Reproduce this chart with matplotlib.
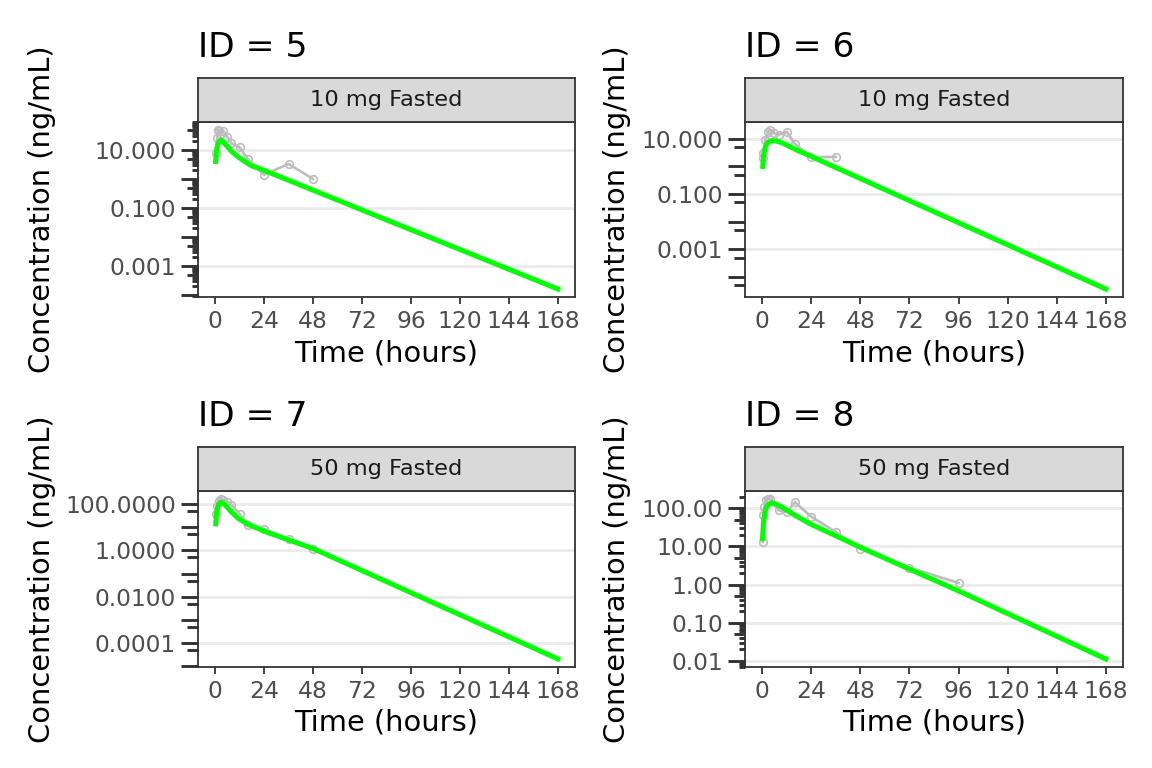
import numpy as np
import matplotlib
matplotlib.use("Agg")
import matplotlib.pyplot as plt
from matplotlib.ticker import NullLocator

# ---- values ----
ids = [5, 6, 7, 8]
groups = ["10 mg Fasted", "10 mg Fasted", "50 mg Fasted", "50 mg Fasted"]

# observed concentrations (ng/mL)
obs_time_5 = [0.5, 1, 1.5, 2, 3, 4, 6, 8, 12, 16, 24, 36, 48]
obs_conc_5 = [8.1, 25, 49, 46, 35, 46, 28, 17, 12.3, 4.8, 1.4, 3.3, 1.0]
obs_time_6 = [0.25, 0.5, 1.5, 3, 4, 6, 8, 12, 16, 24, 36]
obs_conc_6 = [2.0, 3.0, 9.2, 18, 21, 16, 14, 18, 6.6, 2.2, 2.2]
obs_time_7 = [0.5, 1, 2, 3, 4, 6, 8, 12, 16, 24, 36, 48]
obs_conc_7 = [37, 80, 139, 163, 150, 120, 93, 37, 12, 8.5, 3.0, 1.1]
obs_time_8 = [0.25, 0.5, 1, 2, 3, 4, 8, 12, 16, 24, 36, 48, 72, 96]
obs_conc_8 = [13, 66, 108, 160, 175, 170, 89, 80, 146, 60, 24, 8.7, 2.8, 1.1]

# model predictions (ng/mL)
pred_time_5 = [0.25, 0.8, 1.6, 2.8, 4.9, 8.2, 11.5, 17.2, 25.4, 168]
pred_conc_5 = [4.0, 11.5, 18, 22, 16, 8.7, 5.6, 3.0, 1.8, 0.00016]
pred_time_6 = [0.3, 0.8, 1.5, 2.5, 3.5, 5, 7, 9.9, 16, 24, 168]
pred_conc_6 = [1.0, 3.0, 5.0, 7.1, 8.1, 8.7, 8.3, 7.1, 4.2, 2.3, 0.000036]
pred_time_7 = [0.25, 0.8, 1.5, 2.5, 3.3, 5, 7.4, 11, 15.6, 25.4, 48.3, 168]
pred_conc_7 = [13.8, 51, 89, 112, 117, 89, 51, 25, 13.8, 6.0, 1.17, 0.000021]
pred_time_8 = [0.15, 0.6, 1.2, 1.8, 3, 4.8, 7, 9.7, 15, 23, 49.5, 95.8, 168]
pred_conc_8 = [16, 40, 71, 100, 126, 138, 126, 107, 71, 40, 8.7, 0.69, 0.0112]

obs_time = [obs_time_5, obs_time_6, obs_time_7, obs_time_8]
obs_conc = [obs_conc_5, obs_conc_6, obs_conc_7, obs_conc_8]
pred_time = [pred_time_5, pred_time_6, pred_time_7, pred_time_8]
pred_conc = [pred_conc_5, pred_conc_6, pred_conc_7, pred_conc_8]

x_breaks = [0, 24, 48, 72, 96, 120, 144, 168]
y_breaks = [[10, 0.1, 0.001],
            [10, 0.1, 0.001],
            [100, 1, 0.01, 0.0001],
            [100, 10, 1, 0.1, 0.01]]
y_labels = [["10.000", "0.100", "0.001"],
            ["10.000", "0.100", "0.001"],
            ["100.0000", "1.0000", "0.0100", "0.0001"],
            ["100.00", "10.00", "1.00", "0.10", "0.01"]]
short_ticks = [True, False, False, True]

# ---- layout (pixels) ----
W, H = 1152, 768
boxes = [(198, 122, 575, 297), (745, 122, 1123, 297),
         (198, 491, 575, 667), (745, 491, 1123, 667)]
ylab_offset = [156, 128, 156, 128]
STRIP = 44
DARK = "#333333"

plt.rcParams["font.family"] = "DejaVu Sans"
fig = plt.figure(figsize=(W / 100, H / 100), dpi=100)


def fx(p):
    return p / W


def fy(p):
    return 1 - p / H


for i in range(4):
    x0, y0, x1, y1 = boxes[i]
    ax = fig.add_axes([fx(x0), fy(y1), (x1 - x0) / W, (y1 - y0) / H])

    ax.plot(obs_time[i], obs_conc[i], color="#BDBDBD", lw=1.9, marker="o",
            ms=5.5, mfc="none", mec="#BDBDBD", mew=1.2, zorder=2)
    ax.plot(pred_time[i], pred_conc[i], color="#00FF00", lw=3.6, zorder=3)

    ax.set_yscale("log")
    xs = np.array(x_breaks, dtype=float)
    ax.set_xlim(xs.min() - 0.05 * np.ptp(xs), xs.max() + 0.05 * np.ptp(xs))
    allc = np.log10(np.concatenate([obs_conc[i], pred_conc[i]]))
    lo, hi = allc.min(), allc.max()
    pad = 0.05 * (hi - lo)
    ax.set_ylim(10 ** (lo - pad), 10 ** (hi + pad))

    ax.set_xticks(x_breaks)
    ax.set_yticks(y_breaks[i], y_labels[i])
    ax.yaxis.set_minor_locator(NullLocator())
    ax.tick_params(axis="x", length=5, width=1.3, color=DARK, pad=4.5,
                   labelsize=16.8, labelcolor="#4D4D4D")
    ax.tick_params(axis="y", length=0, pad=16, labelsize=16.8,
                   labelcolor="#4D4D4D")
    ax.grid(axis="y", color="#EBEBEB", lw=2)
    ax.set_axisbelow(True)
    for s in ax.spines.values():
        s.set_color(DARK)
        s.set_linewidth(1.3)

    # outside log ticks
    wpx = x1 - x0
    ymin, ymax = ax.get_ylim()
    trans = ax.get_yaxis_transform()
    for d in range(int(np.floor(np.log10(ymin))), int(np.ceil(np.log10(ymax))) + 1):
        for m in range(1, 10):
            v = m * 10.0 ** d
            if v < ymin or v > ymax:
                continue
            if m == 1:
                L = 17
            elif m == 5:
                L = 11
            elif short_ticks[i]:
                L = 6
            else:
                continue
            ax.plot([-L / wpx, 0], [v, v], transform=trans, color=DARK,
                    lw=2.1, clip_on=False, solid_capstyle="butt", zorder=5)

    # facet strip
    sax = fig.add_axes([fx(x0), fy(y0), (x1 - x0) / W, STRIP / H])
    sax.set_facecolor("#D9D9D9")
    sax.set_xticks([])
    sax.set_yticks([])
    for s in sax.spines.values():
        s.set_color(DARK)
        s.set_linewidth(1.3)
    sax.text(0.5, 0.5, groups[i], ha="center", va="center", fontsize=16.2,
             color="#1A1A1A", transform=sax.transAxes)

    # titles and axis labels
    fig.text(fx(x0), fy(y0 - STRIP - 21), "ID = %d" % ids[i], ha="left",
             va="baseline", fontsize=24.8, color="black")
    fig.text(fx((x0 + x1) / 2), fy(y1 + 56), "Time (hours)", ha="center",
             va="center", fontsize=20.8)
    fig.text(fx(x0 - ylab_offset[i]), fy((y0 + y1) / 2), "Concentration (ng/mL)",
             ha="center", va="center", rotation=90, fontsize=20.8)

fig.savefig("out.png", dpi=100, facecolor="white")
